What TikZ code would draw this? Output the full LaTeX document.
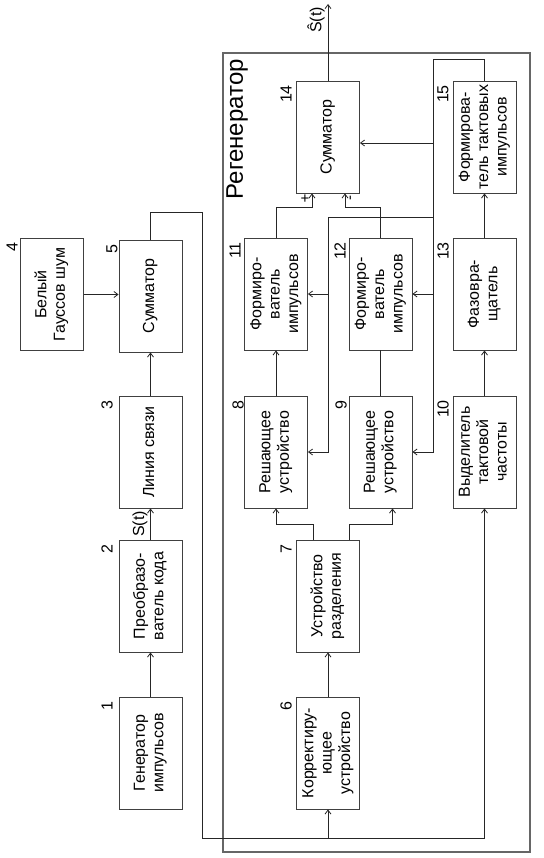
\documentclass[tikz,border=0pt]{standalone}
\usepackage{fontspec}
\setmainfont{Liberation Sans}
\usepackage{graphicx}
\usetikzlibrary{arrows.meta}
\newcommand{\rtxt}[1]{\rotatebox{90}{\begin{tabular}{@{}c@{}}#1\end{tabular}}}
\begin{document}
\begin{tikzpicture}[x=1pt,y=-1pt,
 blk/.style={draw=black!75, line width=0.9pt, minimum width=63pt, minimum height=112pt, inner sep=0pt, font=\fontsize{16}{18.4}\selectfont},
 num/.style={rotate=90, anchor=east, inner sep=0pt, font=\fontsize{16}{18}\selectfont},
 ln/.style={draw=black!85, line width=0.8pt},
 arr/.style={ln, -{Straight Barb[length=4pt,width=6pt]}},
 frame/.style={draw=black!60, line width=1.1pt},
]
\useasboundingbox (0,0) rectangle (543,858);
\fill[white] (0,0) rectangle (543,858);
% frame
\draw[frame] (223,53) rectangle (530,852);
\node[rotate=90, anchor=east, inner sep=0pt, font=\fontsize{24}{28}\selectfont] (title) at (237,59) {Регенератор};
% blocks
\node[blk] (b1) at (150.5,753) {\rtxt{Генератор\\импульсов}};
\node[blk] (b2) at (150.5,596) {\rtxt{Преобразо-\\ватель кода}};
\node[blk] (b3) at (150.5,452) {\rtxt{Линия связи}};
\node[blk] (b4) at (52,294.5) {\rtxt{Белый\\Гауссов шум}};
\node[blk] (b5) at (150.5,296) {\rtxt{Сумматор}};
\node[blk] (b6) at (328,753) {\rtxt{Корректиру-\\ющее\\устройство}};
\node[blk] (b7) at (328,596) {\rtxt{Устройство\\разделения}};
\node[blk] (b8) at (276,452) {\rtxt{Решающее\\устройство}};
\node[blk] (b9) at (380.5,452) {\rtxt{Решающее\\устройство}};
\node[blk] (b10) at (484.5,452) {\rtxt{Выделитель\\тактовой\\частоты}};
\node[blk] (b11) at (276,294) {\rtxt{Формиро-\\ватель\\импульсов}};
\node[blk] (b12) at (380.5,294) {\rtxt{Формиро-\\ватель\\импульсов}};
\node[blk] (b13) at (484.5,294) {\rtxt{Фазовра-\\щатель}};
\node[blk] (b14) at (328,137) {\rtxt{Сумматор}};
\node[blk] (b15) at (484.5,137) {\rtxt{Формирова-\\тель тактовых\\импульсов}};
% numbers
\node[num] (n1) at (107,701) {1};
\node[num] (n2) at (107,544) {2};
\node[num] (n3) at (107,400) {3};
\node[num] (n4) at (12,242) {4};
\node[num] (n5) at (112,244) {5};
\node[num] (n6) at (286,701) {6};
\node[num] (n7) at (286,544) {7};
\node[num] (n8) at (238,400) {8};
\node[num] (n9) at (341,400) {9};
\node[num] (n10) at (443,400) {10};
\node[num] (n11) at (235,242) {11};
\node[num] (n12) at (340,242) {12};
\node[num] (n13) at (443,242) {13};
\node[num] (n14) at (286,85) {14};
\node[num] (n15) at (443,85) {15};
% transmitter chain
\draw[arr] (b1.north) -- (b2.south);
\draw[arr] (b2.north) -- (b3.south);
\node[rotate=90, inner sep=0pt, font=\fontsize{16}{18}\selectfont] (st) at (140,524) {S(t)};
\draw[arr] (b3.north) -- (b5.south);
\draw[arr] (b4.east) -- (b5.west |- b4.east);
% channel output into regenerator
\coordinate (c5) at (150.5,212);
\coordinate (cL) at (202,838);
\draw[arr] (b5.north) -- (c5) -| (cL) -| (b10.south);
\draw[arr] (b6.south |- cL) -- (b6.south);
\draw[arr] (b6.north) -- (b7.south);
% splitter
\coordinate (s7a) at (313,524);
\coordinate (s7b) at (349,524);
\draw[arr] (s7a |- b7.north) -- (s7a) -| (b8.south);
\draw[arr] (s7b |- b7.north) -- (s7b) -| ([xshift=12pt]b9.south);
% vertical chains
\draw[arr] (b8.north) -- (b11.south);
\draw[ln] (b9.north) -- (b12.south);
\draw[arr] (b10.north) -- (b13.south);
\draw[arr] (b13.north) -- (b15.south);
% to summator 14
\coordinate (m14a) at (312,207);
\coordinate (m14b) at (345,207);
\draw[arr] (b11.north) |- (m14a) -- (m14a |- b14.south);
\draw[arr] (b12.north) |- (m14b) -- (m14b |- b14.south);
\node[inner sep=0pt, font=\fontsize{15}{16}\selectfont] (plus) at (305,199) {+};
\node[rotate=90, inner sep=0pt, font=\fontsize{15}{16}\selectfont] (minus) at (352,198) {-};
% output
\coordinate (out) at (327,4);
\draw[arr] (b14.north) -- (b14.north |- out);
\node[rotate=90, inner sep=0pt, font=\fontsize{16}{18}\selectfont] (shat) at (316,20) {Ŝ(t)};
% clock distribution
\coordinate (k1) at (433,59);
\coordinate (k2) at (433,452);
\coordinate (k14) at (433,143);
\coordinate (k3) at (433,217);
\coordinate (k4) at (328,217);
\draw[arr] (b15.north) |- (k1) -- (k2) -- (b9.east);
\draw[arr] (k14) -- (k14 -| b14.east);
\draw[arr] (k1 |- b12.east) -- (b12.east);
\draw[arr] (k3) -- (k4) |- (b8.east);
\draw[arr] (k4 |- b11.east) -- (b11.east);
\end{tikzpicture}
\end{document}
